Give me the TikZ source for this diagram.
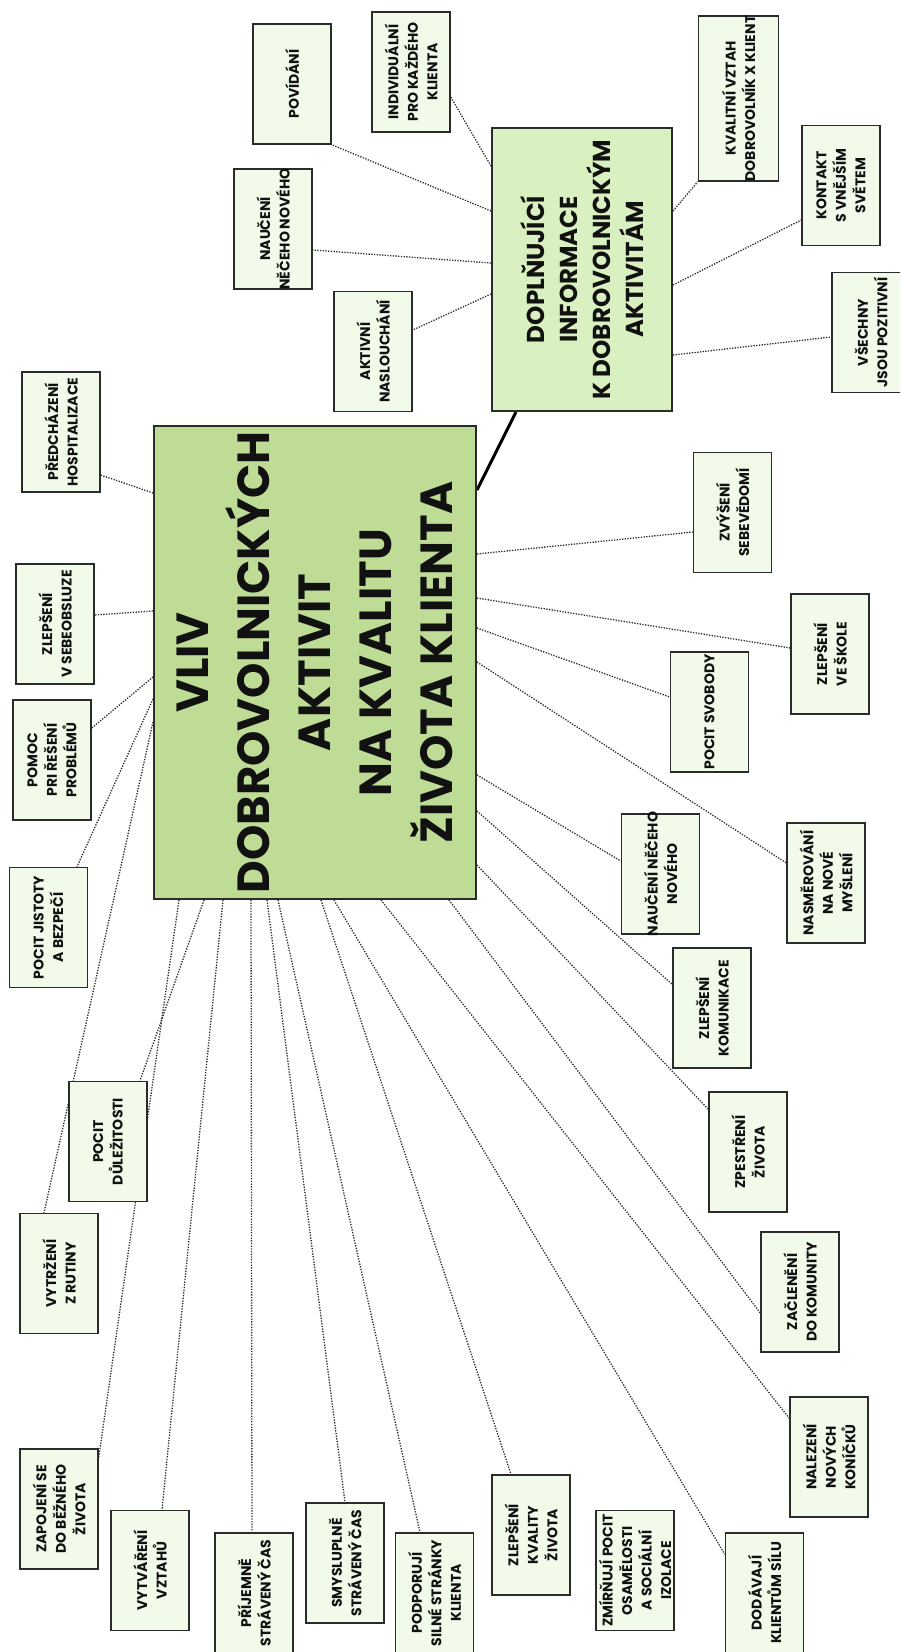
\documentclass[tikz,border=0pt]{standalone}
\usepackage{fontspec}
\setmainfont{Poppins}
\pgfdeclarelayer{background}
\pgfsetlayers{background,main}

\definecolor{coregreen}{HTML}{BEDC95}
\definecolor{infogreen}{HTML}{D9F1C0}
\definecolor{leafgreen}{HTML}{F2FBEA}
\definecolor{edgegray}{HTML}{2B2B2B}
\definecolor{inkblack}{HTML}{111111}

% small idea box: an empty framed node plus a rotated caption on top of it
\newcommand\leafbox[4][]{%
  \node[leaf,#1] (#2) at #3 {};
  \node[leaftext] (#2-txt) at (#2.center) {#4};}

\begin{document}
\begin{tikzpicture}[x=1pt,y=-1pt,
  leaf/.style={draw=edgegray, line width=1.5pt, fill=leafgreen,
    minimum width=78pt, minimum height=120pt, inner sep=0pt},
  leaftext/.style={rotate=90, align=center, text=inkblack, inner sep=0pt,
    font=\bfseries\fontsize{14}{19.5}\selectfont},
  corebox/.style={draw=edgegray, line width=2pt, fill=coregreen,
    minimum width=322pt, minimum height=473pt, inner sep=0pt},
  coretext/.style={rotate=90, align=center, text=inkblack, inner sep=0pt,
    font=\bfseries\fontsize{45}{61}\selectfont},
  infobox/.style={draw=edgegray, line width=2pt, fill=infogreen,
    minimum width=180pt, minimum height=283pt, inner sep=0pt},
  infotext/.style={rotate=90, align=center, text=inkblack, inner sep=0pt,
    font=\bfseries\fontsize{24.5}{33}\selectfont},
  link/.style={draw=edgegray, line width=1.3pt, dash pattern=on 1.3pt off 1.4pt},
  trunk/.style={draw=black, line width=3pt}]

\useasboundingbox (0,0) rectangle (900,1652);
\clip (0,0) rectangle (900,1652);

% central topic
\node[corebox] (main) at (315,662.5) {};
\node[coretext] (main-txt) at (main.center)
  {VLIV\\DOBROVOLNICKÝCH\\AKTIVIT\\NA KVALITU\\ŽIVOTA KLIENTA};

% supplementary information
\node[infobox] (info) at (582,269.5) {};
\node[infotext] (info-txt) at (info.center)
  {DOPLŇUJÍCÍ\\INFORMACE\\K DOBROVOLNICKÝM\\AKTIVITÁM};

% ideas around the supplementary information
\leafbox{povidani}{(292,84)}{POVÍDÁNÍ}
\leafbox{individ}{(411,72)}{INDIVIDUÁLNÍ\\PRO KAŽDÉHO\\KLIENTA}
\leafbox{nauceniL}{(273,229)}{NAUČENÍ\\NĚČEHO NOVÉHO}
\leafbox{aktivni}{(373,351.5)}{AKTIVNÍ\\NASLOUCHÁNÍ}
\leafbox[minimum width=80pt, minimum height=165pt]{kvalitni}{(738.5,98.5)}{KVALITNÍ VZTAH\\DOBROVOLNÍK X KLIENT}
\leafbox{kontakt}{(841,185.5)}{KONTAKT\\S VNĚJŠÍM\\SVĚTEM}
\leafbox{vsechny}{(871,332.5)}{VŠECHNY\\JSOU POZITIVNÍ}

% left column
\leafbox{predchazeni}{(61,432)}{PŘEDCHÁZENÍ\\HOSPITALIZACE}
\leafbox{sebeobsluze}{(55,624)}{ZLEPŠENÍ\\V SEBEOBSLUZE}
\leafbox{pomoc}{(52,760)}{POMOC\\PRI ŘEŠENÍ\\PROBLÉMŮ}
\leafbox{jistoty}{(48.5,927.5)}{POCIT JISTOTY\\A BEZPEČÍ}
\leafbox{dulezitosti}{(108,1141.5)}{POCIT\\DŮLEŽITOSTI}
\leafbox{rutiny}{(59,1273.5)}{VYTRŽENÍ\\Z RUTINY}

% bottom row
\leafbox{zapojeni}{(59,1509)}{ZAPOJENÍ SE\\DO BĚŽNÉHO\\ŽIVOTA}
\leafbox{vztahu}{(150,1570.5)}{VYTVÁŘENÍ\\VZTAHŮ}
\leafbox{prijemne}{(254,1593)}{PŘÍJEMNĚ\\STRÁVENÝ ČAS}
\leafbox{smysluplne}{(345,1563)}{SMYSLUPLNĚ\\STRÁVENÝ ČAS}
\leafbox{podporuji}{(434.5,1593)}{PODPORUJÍ\\SILNÉ STRÁNKY\\KLIENTA}
\leafbox{kvality}{(531,1535)}{ZLEPŠENÍ\\KVALITY\\ŽIVOTA}
\leafbox{zmirnuji}{(635,1570.5)}{ZMÍRŇUJÍ POCIT\\OSAMĚLOSTI\\A SOCIÁLNÍ\\IZOLACE}
\leafbox{dodavaji}{(764.5,1593)}{DODÁVAJÍ\\KLIENTŮM SÍLU}
\leafbox{nalezeni}{(829,1457)}{NALEZENÍ\\NOVÝCH\\KONÍČKŮ}

% right column
\leafbox{zacleneni}{(800,1292)}{ZAČLENĚNÍ\\DO KOMUNITY}
\leafbox{zpestreni}{(748,1152)}{ZPESTŘENÍ\\ŽIVOTA}
\leafbox{komunikace}{(712,1008)}{ZLEPŠENÍ\\KOMUNIKACE}
\leafbox{nauceniR}{(660.5,874)}{NAUČENÍ NĚČEHO\\NOVÉHO}
\leafbox{nasmerovani}{(826,883)}{NASMĚROVÁNÍ\\NA NOVÉ\\MYŠLENÍ}
\leafbox{svobody}{(709.5,712)}{POCIT SVOBODY}
\leafbox{skole}{(830,654)}{ZLEPŠENÍ\\VE ŠKOLE}
\leafbox{sebevedomi}{(732.5,512.5)}{ZVÝŠENÍ\\SEBEVĚDOMÍ}

\begin{pgfonlayer}{background}
  % supplementary information links
  \draw[trunk] ([xshift=25pt]info.south west) -- ([yshift=-65pt]main.north east);
  \draw[link] ([yshift=-39pt]info.north west) -- ([yshift=-25pt]individ.east);
  \draw[link] ([yshift=-84pt]info.north west) -- (povidani.south east);
  \draw[link] ([yshift=-136pt]info.north west) -- ([yshift=-21pt]nauceniL.east);
  \draw[link] ([yshift=-167pt]info.north west) -- ([yshift=21.5pt]aktivni.east);
  \draw[link] ([yshift=-84pt]info.north east) -- (kvalitni.south west);
  \draw[link] ([yshift=-158pt]info.north east) -- ([yshift=-34.5pt]kontakt.west);
  \draw[link] ([yshift=-228pt]info.north east) -- ([yshift=-4.5pt]vsechny.west);

  % left edge of the central topic
  \draw[link] ([yshift=-68pt]main.north west) -- ([yshift=-43pt]predchazeni.east);
  \draw[link] ([yshift=-186pt]main.north west) -- ([yshift=9pt]sebeobsluze.east);
  \draw[link] ([yshift=-252pt]main.north west) -- ([yshift=32pt]pomoc.east);
  \draw[link] ([yshift=-274pt]main.north west) -- ([xshift=28.5pt]jistoty.north);
  \draw[link] ([yshift=-297pt]main.north west) -- ([xshift=-15pt]rutiny.north);

  % bottom edge of the central topic
  \draw[link] ([xshift=26pt]main.south west) -- ([yshift=-9pt]zapojeni.north east);
  \draw[link] ([xshift=51pt]main.south west) -- ([xshift=32pt]dulezitosti.north);
  \draw[link] ([xshift=70pt]main.south west) -- ([xshift=12pt]vztahu.north);
  \draw[link] ([xshift=98pt]main.south west) -- ([xshift=-2pt]prijemne.north);
  \draw[link] ([xshift=114pt]main.south west) -- (smysluplne.north);
  \draw[link] ([xshift=125pt]main.south west) -- ([xshift=-14.5pt]podporuji.north);
  \draw[link] ([xshift=168pt]main.south west) -- ([xshift=-20pt]kvality.north);
  \draw[link] ([xshift=181pt]main.south west) -- ([yshift=-22pt]dodavaji.north west);
  \draw[link] ([xshift=228pt]main.south west) -- ([yshift=-22pt]nalezeni.north west);
  \draw[link] ([xshift=296pt]main.south west) -- ([yshift=-21pt]zacleneni.west);

  % right edge of the central topic
  \draw[link] ([yshift=-440pt]main.north east) -- ([yshift=-18pt]zpestreni.north west);
  \draw[link] ([yshift=-386pt]main.north east) -- ([yshift=-37pt]komunikace.north west);
  \draw[link] ([yshift=-350pt]main.north east) -- ([yshift=13pt]nauceniR.west);
  \draw[link] ([yshift=-237pt]main.north east) -- ([yshift=20pt]nasmerovani.west);
  \draw[link] ([yshift=-203pt]main.north east) -- ([yshift=15pt]svobody.west);
  \draw[link] ([yshift=-173pt]main.north east) -- ([yshift=6pt]skole.west);
  \draw[link] ([yshift=-129pt]main.north east) -- ([yshift=-19.5pt]sebevedomi.west);
\end{pgfonlayer}
\end{tikzpicture}
\end{document}
